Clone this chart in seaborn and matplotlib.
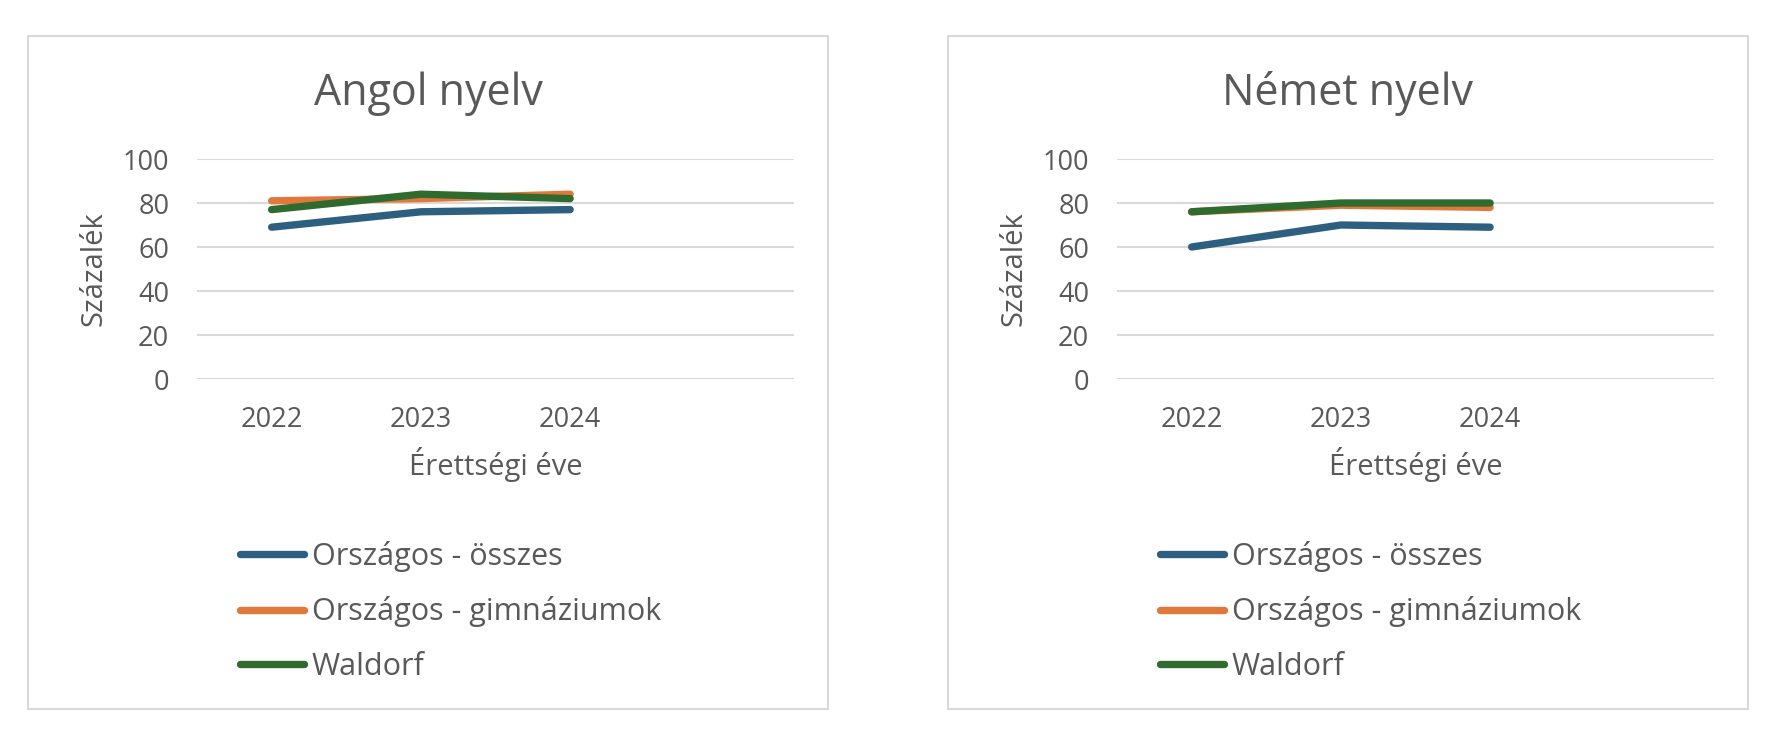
import pandas as pd
import matplotlib.pyplot as plt
from matplotlib.patches import Rectangle
import seaborn as sns

sns.set_theme(style='white')
plt.rcParams['font.family'] = ['Open Sans', 'DejaVu Sans']

# data
years = ['2022', '2023', '2024']
series = ['Országos - összes', 'Országos - gimnáziumok', 'Waldorf']
angol_osszes = [69, 76, 77]
angol_gimn = [81, 82, 84]
angol_waldorf = [77, 84, 82]
nemet_osszes = [60, 70, 69]
nemet_gimn = [76, 79, 78]
nemet_waldorf = [76, 80, 80]

colors = ['#2C5F80', '#E0783C', '#2F6B2F']
txt = '#595959'
W, H = 1788, 746


def long_df(a, b, c):
    rows = []
    for name, vals in zip(series, [a, b, c]):
        for y, v in zip(years, vals):
            rows.append({'Év': y, 'Érték': v, 'Sorozat': name})
    return pd.DataFrame(rows)


panels = [('Angol nyelv', long_df(angol_osszes, angol_gimn, angol_waldorf)),
          ('Német nyelv', long_df(nemet_osszes, nemet_gimn, nemet_waldorf))]

fig = plt.figure(figsize=(W / 100, H / 100), dpi=100)
fig.patch.set_facecolor('white')

for i, (title, df) in enumerate(panels):
    off = i * 920
    # chart frame
    fig.add_artist(Rectangle(((28 + off) / W, 1 - 709 / H), 800 / W, 673 / H,
                             transform=fig.transFigure, fill=False,
                             edgecolor='#D9D9D9', lw=1.5))
    ax = fig.add_axes([(197 + off) / W, 1 - 379 / H, 597 / W, 220 / H])
    sns.lineplot(data=df, x='Év', y='Érték', hue='Sorozat', hue_order=series,
                 palette=colors, lw=5.3, ax=ax, legend=True)
    for ln in ax.get_lines():
        ln.set_solid_capstyle('round')
        ln.set_solid_joinstyle('round')
    ax.set_xlim(-0.5, 3.5)
    ax.set_ylim(0, 100)
    ax.set_yticks(range(0, 101, 20))
    ax.yaxis.grid(True, color='#D9D9D9', lw=1.5)
    ax.set_axisbelow(True)
    for s in ax.spines.values():
        s.set_visible(False)
    ax.tick_params(axis='both', length=0, labelsize=19.5, labelcolor=txt)
    ax.tick_params(axis='y', pad=20)
    ax.tick_params(axis='x', pad=19.5)
    ax.set_xlabel('Érettségi éve', fontsize=21, color=txt, labelpad=9)
    ax.set_ylabel('Százalék', fontsize=21, color=txt, labelpad=10)
    fig.text((428 + off) / W, 1 - 94 / H, title, fontsize=31, color=txt,
             ha='center', va='center')

    handles, labels = ax.get_legend_handles_labels()
    for h in handles:
        h.set_linewidth(5.3)
        h.set_solid_capstyle('round')
    leg = ax.legend(handles, labels, loc='upper left', frameon=False,
                    bbox_to_anchor=((240 + off) / W, 1 - 541 / H),
                    bbox_transform=fig.transFigure, fontsize=22,
                    handlelength=2.1, handletextpad=0.25, labelspacing=0.8,
                    borderpad=0, borderaxespad=0)
    for t in leg.get_texts():
        t.set_color(txt)

fig.savefig('out.png', dpi=100, facecolor='white')
